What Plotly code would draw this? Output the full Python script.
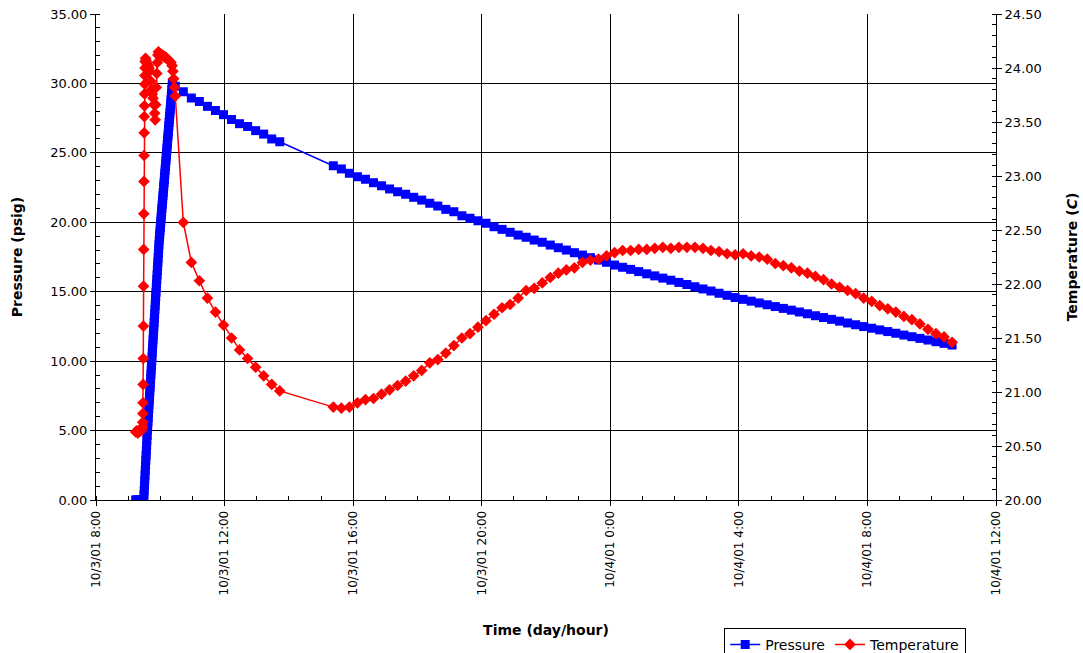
import pandas as pd
import plotly.graph_objects as go

BASE = pd.Timestamp("2001-10-03 08:00")

# ---------------- data (minutes after 10/3/01 8:00) ----------------
# Pressure: flat start, fast-logged ramp, then 15-minute logging
p_early_min = [74, 76, 78, 80, 82, 84, 86, 88,
               89, 89.5, 90, 90.5, 91, 91.5, 92, 92.5, 93, 93.5, 94, 94.5, 95, 95.5, 96,
               96.5, 97, 97.5, 98, 98.5, 99, 99.5, 100, 100.5, 101, 101.5, 102, 102.5, 103, 103.5,
               104, 104.5, 105, 105.5, 106, 106.5, 107, 107.5, 108, 108.5, 109, 109.5, 110, 110.5,
               111, 111.5, 112, 112.5, 113, 113.5, 114, 114.5, 115, 115.5, 116, 116.5, 117, 117.5, 118,
               118.5, 119, 119.5, 120, 120.5, 121, 121.5, 122, 122.5, 123, 123.5, 124, 124.5, 125,
               125.5, 126, 126.5, 127, 127.5, 128, 128.5, 129, 129.5, 130, 130.5, 131, 131.5, 132,
               132.5, 133, 133.5, 134, 134.5, 135, 135.5, 136, 136.5, 137, 137.5, 138, 138.5, 139,
               139.5, 140, 140.5, 141, 141.5, 142, 142.5, 148]
p_early = [0, 0, 0, 0, 0, 0, 0, 0,
           0.05, 0.36, 0.71, 1.07, 1.43, 1.79, 2.14, 2.50, 2.86, 3.21, 3.57, 3.93, 4.29, 4.64, 5.00,
           5.31, 5.62, 5.93, 6.25, 6.56, 6.87, 7.18, 7.49, 7.80, 8.11, 8.42, 8.74, 9.05, 9.36,
           9.67, 9.98, 10.29, 10.60, 10.91, 11.23, 11.54, 11.85, 12.16, 12.47, 12.78, 13.09, 13.40, 13.72,
           14.03, 14.34, 14.65, 14.96, 15.27, 15.58, 15.89, 16.21, 16.52, 16.83, 17.14, 17.45, 17.76, 18.07,
           18.38, 18.70,
           18.93, 19.16, 19.39, 19.62, 19.85, 20.08, 20.31, 20.54, 20.77, 21.00, 21.23, 21.45, 21.68,
           21.91, 22.14, 22.37, 22.60, 22.83, 23.06, 23.29, 23.52, 23.75, 23.98, 24.21, 24.44, 24.67,
           24.90, 25.13, 25.36, 25.59, 25.82, 26.05, 26.28, 26.51, 26.74, 26.96, 27.19, 27.42, 27.65,
           27.88, 28.11, 28.34, 28.57, 28.80,
           29.04, 29.28, 29.52, 29.76, 30.05, 29.80]

# Temperature: baseline, fast rise and plateau (fast logging)
t_early_min = [74, 76, 78, 80, 82, 84, 86,
               87, 87.25, 87.5, 87.75, 88, 88.25, 88.5, 88.75, 89, 89.25, 89.5, 89.75, 90, 90.25,
               90.5, 90.75, 91, 91.25, 91.5, 91.75,
               92.5, 93.5, 94.5, 96, 97.5, 99, 100.5, 102, 103.5, 105, 106.5, 108, 109.5,
               110.5, 111.5, 112.5, 113.5, 114.5, 115.5, 116.5,
               118, 120, 122, 124, 126, 128, 130, 132, 134, 136, 138, 140, 142,
               143.5, 145, 146.5, 148]
t_early = [20.63, 20.64, 20.62, 20.63, 20.65, 20.64, 20.66,
           20.68, 20.72, 20.80, 20.90, 21.07, 21.31, 21.61, 21.98, 22.32, 22.65, 22.95, 23.19, 23.40,
           23.55, 23.65, 23.76, 23.85, 23.93, 24.00, 24.06,
           24.09, 24.07, 24.05, 24.03, 24.02, 24.00, 23.97, 23.88, 23.80, 23.76, 23.72, 23.66, 23.58,
           23.52, 23.66, 23.82, 23.95, 24.05, 24.12, 24.15,
           24.14, 24.13, 24.12, 24.12, 24.11, 24.10, 24.10, 24.09, 24.08, 24.07, 24.06, 24.05, 24.02,
           23.97, 23.90, 23.82, 23.74]

# 15-minute logging, before the gap
seg_a_min = [163, 178, 193, 208, 223, 238, 253, 268, 283, 298, 313, 328, 343]
p_seg_a = [29.4, 28.95, 28.7, 28.35, 28.05, 27.75, 27.4, 27.1, 26.9, 26.6, 26.35, 26.0, 25.8]
t_seg_a = [22.57, 22.20, 22.03, 21.87, 21.74, 21.62, 21.50, 21.39, 21.31, 21.23, 21.15, 21.07, 21.01]

# 15-minute logging, after the gap
seg_b_min = [443, 458, 473, 488, 503, 518, 533, 548, 563, 578,
             593, 608, 623, 638, 653, 668, 683, 698, 713, 728,
             743, 758, 773, 788, 803, 818, 833, 848, 863, 878,
             893, 908, 923, 938, 953, 968, 983, 998, 1013, 1028,
             1043, 1058, 1073, 1088, 1103, 1118, 1133, 1148, 1163, 1178,
             1193, 1208, 1223, 1238, 1253, 1268, 1283, 1298, 1313, 1328,
             1343, 1358, 1373, 1388, 1403, 1418, 1433, 1448, 1463, 1478,
             1493, 1508, 1523, 1538, 1553, 1568, 1583, 1598]
p_seg_b = [24.07, 23.84, 23.53, 23.28, 23.10, 22.85, 22.63, 22.40, 22.20, 22.02,
           21.80, 21.60, 21.37, 21.17, 20.93, 20.76, 20.47, 20.29, 20.11, 19.93,
           19.68, 19.49, 19.28, 19.08, 18.92, 18.72, 18.56, 18.36, 18.17, 18.00,
           17.81, 17.64, 17.45, 17.28, 17.12, 16.92, 16.76, 16.61, 16.45, 16.29,
           16.14, 15.98, 15.83, 15.67, 15.52, 15.36, 15.20, 15.05, 14.89, 14.74,
           14.58, 14.45, 14.32, 14.19, 14.06, 13.93, 13.80, 13.67, 13.54, 13.41,
           13.27, 13.14, 13.01, 12.88, 12.75, 12.62, 12.49, 12.37, 12.25, 12.13,
           12.01, 11.88, 11.76, 11.64, 11.52, 11.40, 11.28, 11.16]
t_seg_b = [20.86, 20.85, 20.86, 20.90, 20.93, 20.94, 20.98, 21.02, 21.06, 21.10,
           21.15, 21.20, 21.27, 21.30, 21.36, 21.43, 21.50, 21.54, 21.60, 21.66,
           21.72, 21.78, 21.81, 21.87, 21.94, 21.96, 22.01, 22.06, 22.10, 22.13,
           22.15, 22.20, 22.22, 22.23, 22.26, 22.29, 22.31, 22.31, 22.32, 22.32,
           22.33, 22.34, 22.33, 22.34, 22.34, 22.34, 22.33, 22.31, 22.30, 22.28,
           22.27, 22.28, 22.26, 22.25, 22.23, 22.19, 22.17, 22.15, 22.12, 22.10,
           22.07, 22.04, 22.00, 21.97, 21.94, 21.91, 21.87, 21.84, 21.80, 21.77,
           21.74, 21.70, 21.67, 21.63, 21.58, 21.54, 21.51, 21.46]

y_left_range = [0, 35]
y_right_range = [20, 24.5]
x_range_hours = 28


def to_time(mins):
    return [(BASE + pd.Timedelta(minutes=m)).strftime("%Y-%m-%d %H:%M:%S") for m in mins]


p_time = to_time(p_early_min + seg_a_min + seg_b_min)
p_vals = p_early + p_seg_a + p_seg_b
t_time = to_time(t_early_min + seg_a_min + seg_b_min)
t_vals = t_early + t_seg_a + t_seg_b

FONT = "DejaVu Sans"

fig = go.Figure()
fig.add_trace(go.Scatter(
    x=p_time, y=p_vals, name="Pressure", mode="lines+markers",
    line=dict(color="#0000FF", width=1.5),
    marker=dict(symbol="square", size=9, color="#0000FF"),
    yaxis="y"))
fig.add_trace(go.Scatter(
    x=t_time, y=t_vals, name="Temperature", mode="lines+markers",
    line=dict(color="#FF0000", width=1.5),
    marker=dict(symbol="diamond", size=9, color="#FF0000"),
    yaxis="y2"))

x_end = (BASE + pd.Timedelta(hours=x_range_hours)).strftime("%Y-%m-%d %H:%M:%S")

fig.update_layout(
    width=1083, height=653,
    paper_bgcolor="white", plot_bgcolor="white",
    margin=dict(l=96, r=87, t=14, b=153, autoexpand=False),
    font=dict(family=FONT, size=13, color="black"),
    showlegend=True,
    legend=dict(orientation="h", x=0.698, y=-0.263, xanchor="left", yanchor="top",
                bordercolor="black", borderwidth=1, bgcolor="white",
                font=dict(family=FONT, size=14, color="black")),
    xaxis=dict(
        type="date", range=[BASE.strftime("%Y-%m-%d %H:%M:%S"), x_end],
        tick0=BASE.strftime("%Y-%m-%d %H:%M:%S"), dtick=4 * 3600 * 1000,
        tickformat="%-m/%-d/%y %-H:%M", tickangle=-90,
        tickfont=dict(family=FONT, size=12, color="black"),
        ticks="outside", ticklen=5, tickcolor="black",
        showgrid=True, gridcolor="black", gridwidth=1,
        showline=True, linecolor="black", linewidth=1,
        zeroline=False,
        minor=dict(dtick=3600 * 1000, ticks="inside", ticklen=4, tickcolor="black", showgrid=False),
        title=dict(text="<b>Time (day/hour)</b>", font=dict(family=FONT, size=14, color="black"),
                   standoff=30),
    ),
    yaxis=dict(
        range=y_left_range, dtick=5, tick0=0, tickformat=".2f",
        ticks="outside", ticklen=5, tickcolor="black",
        showgrid=True, gridcolor="black", gridwidth=1,
        showline=True, linecolor="black", linewidth=1, zeroline=False,
        minor=dict(dtick=1, ticks="inside", ticklen=4, tickcolor="black", showgrid=False),
        title=dict(text="<b>Pressure (psig)</b>", font=dict(family=FONT, size=14, color="black"),
                   standoff=24),
    ),
    yaxis2=dict(
        range=y_right_range, dtick=0.5, tick0=20, tickformat=".2f",
        overlaying="y", side="right",
        ticks="outside", ticklen=5, tickcolor="black",
        showgrid=False, showline=True, linecolor="black", linewidth=1, zeroline=False,
        minor=dict(dtick=0.1, ticks="inside", ticklen=4, tickcolor="black", showgrid=False),
        title=dict(text="<b>Temperature (<i>C</i>)</b>", font=dict(family=FONT, size=14, color="black"),
                   standoff=26),
    ),
)

fig.write_html("out.html")
